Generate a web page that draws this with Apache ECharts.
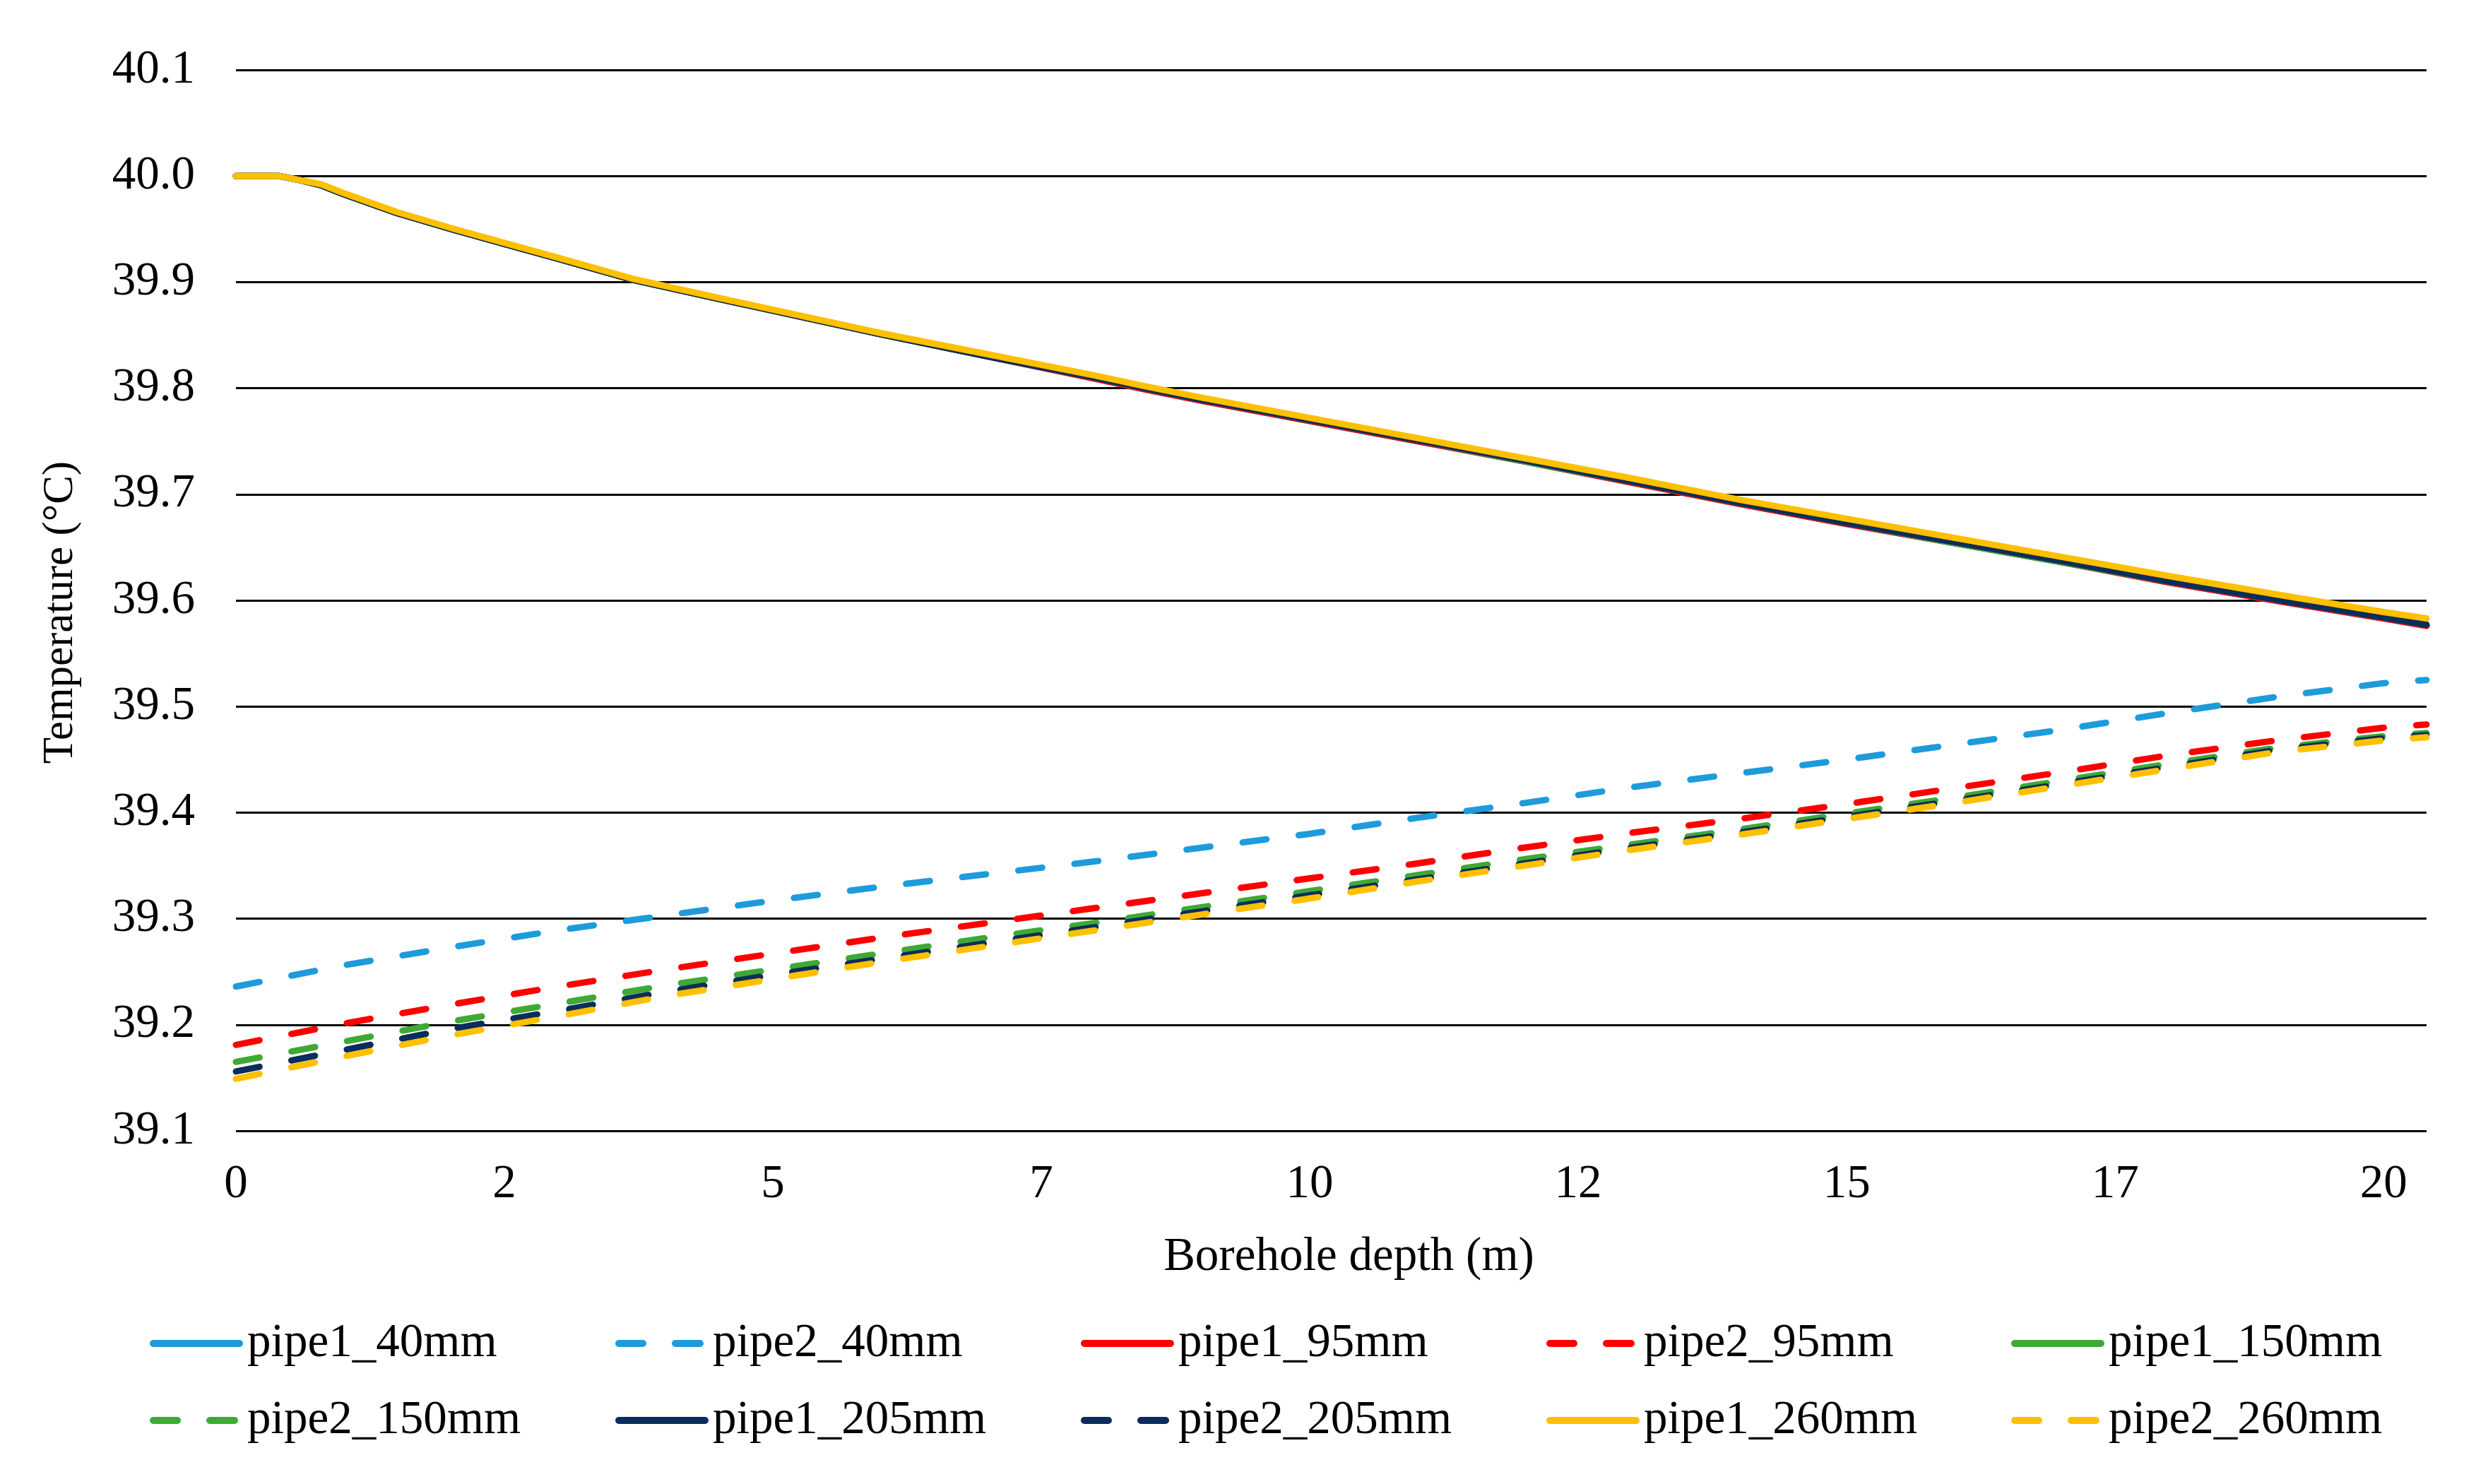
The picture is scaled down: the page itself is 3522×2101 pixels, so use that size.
<!DOCTYPE html>
<html>
<head>
<meta charset="utf-8">
<style>
html,body{margin:0;padding:0;background:#fff;}
#chart{width:3522px;height:2101px;}
</style>
<script src="https://cdn.jsdelivr.net/npm/echarts@6/dist/echarts.min.js"></script>
</head>
<body>
<div id="chart"></div>
<script>
// ---- data ----
const depth1 = [0, 0.2, 0.4, 0.6, 0.8, 1.0, 1.25, 1.5, 2, 2.5, 3, 3.7, 4.5, 5, 6, 7, 8, 8.46, 9, 10, 11, 12, 13, 13.6, 14, 15, 16, 17, 18, 19.1, 20, 20.4];
const pipe1_40mm  = [40.000, 40.000, 40.000, 39.996, 39.991, 39.983, 39.974, 39.965, 39.950, 39.936, 39.922, 39.902, 39.884, 39.873, 39.851, 39.830, 39.809, 39.799, 39.788, 39.769, 39.750, 39.731, 39.711, 39.699, 39.691, 39.672, 39.654, 39.636, 39.617, 39.598, 39.583, 39.576];
const pipe1_95mm  = [40.000, 40.000, 40.000, 39.996, 39.991, 39.983, 39.974, 39.965, 39.950, 39.936, 39.922, 39.902, 39.884, 39.873, 39.851, 39.830, 39.809, 39.799, 39.788, 39.769, 39.750, 39.731, 39.711, 39.699, 39.691, 39.672, 39.654, 39.636, 39.617, 39.598, 39.583, 39.576];
const pipe1_150mm = [40.000, 40.000, 40.000, 39.996, 39.991, 39.983, 39.974, 39.965, 39.950, 39.936, 39.922, 39.902, 39.884, 39.873, 39.851, 39.830, 39.810, 39.800, 39.789, 39.770, 39.751, 39.731, 39.712, 39.700, 39.692, 39.673, 39.654, 39.636, 39.618, 39.599, 39.584, 39.577];
const pipe1_205mm = [40.000, 40.000, 40.000, 39.996, 39.991, 39.983, 39.974, 39.965, 39.950, 39.936, 39.922, 39.902, 39.884, 39.873, 39.851, 39.830, 39.810, 39.800, 39.789, 39.770, 39.751, 39.732, 39.712, 39.700, 39.692, 39.673, 39.655, 39.637, 39.618, 39.599, 39.584, 39.577];
const pipe1_260mm = [40.000, 40.000, 40.000, 39.996, 39.992, 39.984, 39.975, 39.966, 39.951, 39.937, 39.923, 39.903, 39.885, 39.874, 39.852, 39.832, 39.812, 39.802, 39.791, 39.772, 39.753, 39.734, 39.715, 39.703, 39.695, 39.677, 39.659, 39.641, 39.623, 39.604, 39.589, 39.583];

const depth2 = [0, 1, 2, 3, 4, 5, 6, 7, 8, 9, 10, 11, 12, 13, 14, 15, 16, 17, 18, 19, 20, 20.4];
const pipe2_40mm  = [39.236, 39.256, 39.273, 39.289, 39.303, 39.317, 39.330, 39.342, 39.354, 39.367, 39.380, 39.395, 39.409, 39.424, 39.437, 39.450, 39.464, 39.478, 39.494, 39.509, 39.522, 39.525];
const pipe2_95mm  = [39.181, 39.201, 39.219, 39.236, 39.252, 39.267, 39.282, 39.296, 39.310, 39.324, 39.338, 39.352, 39.367, 39.381, 39.394, 39.408, 39.423, 39.438, 39.454, 39.468, 39.480, 39.483];
const pipe2_150mm = [39.165, 39.184, 39.203, 39.220, 39.237, 39.252, 39.267, 39.282, 39.296, 39.311, 39.326, 39.341, 39.356, 39.370, 39.384, 39.399, 39.414, 39.430, 39.446, 39.461, 39.472, 39.475];
const pipe2_205mm = [39.156, 39.176, 39.196, 39.213, 39.231, 39.247, 39.262, 39.277, 39.292, 39.307, 39.322, 39.337, 39.352, 39.367, 39.381, 39.396, 39.411, 39.427, 39.443, 39.459, 39.470, 39.473];
const pipe2_260mm = [39.149, 39.170, 39.190, 39.208, 39.227, 39.243, 39.259, 39.274, 39.289, 39.304, 39.319, 39.335, 39.350, 39.365, 39.379, 39.394, 39.409, 39.425, 39.441, 39.457, 39.468, 39.471];

const seriesNames = ['pipe1_40mm','pipe2_40mm','pipe1_95mm','pipe2_95mm','pipe1_150mm','pipe2_150mm','pipe1_205mm','pipe2_205mm','pipe1_260mm','pipe2_260mm'];
const xTitle = 'Borehole depth (m)';
const yTitle = 'Temperature (°C)';

// ---- build ----
const colors = {
  '40mm': '#1E9BDB',
  '95mm': '#FF0000',
  '150mm': '#3EA935',
  '205mm': '#0B2C5C',
  '260mm': '#FFC000'
};
const values = {
  pipe1_40mm, pipe2_40mm, pipe1_95mm, pipe2_95mm, pipe1_150mm,
  pipe2_150mm, pipe1_205mm, pipe2_205mm, pipe1_260mm, pipe2_260mm
};
const FONT = 'Liberation Serif';
const FS = 67;

function pairs(xs, ys){ return xs.map((x,i)=>[x, ys[i]]); }

const drawOrder = ['pipe1_40mm','pipe1_95mm','pipe1_150mm','pipe1_205mm','pipe1_260mm',
                   'pipe2_40mm','pipe2_95mm','pipe2_150mm','pipe2_205mm','pipe2_260mm'];
const series = drawOrder.map((name, idx) => {
  const dashed = name.startsWith('pipe2');
  const size = name.split('_')[1];
  return {
    name: name,
    type: 'line',
    data: pairs(dashed ? depth2 : depth1, values[name]),
    symbol: 'none',
    showSymbol: false,
    smooth: false,
    z: 2 + idx,
    animation: false,
    color: colors[size],
    lineStyle: {
      color: colors[size],
      width: 9,
      type: dashed ? [34, 46] : 'solid',
      cap: 'round',
      join: 'round'
    },
    emphasis: { disabled: true }
  };
});

const solidIcon = 'path://M5,0 H127 A5,5 0 0 1 127,10 H5 A5,5 0 0 1 5,0 Z';
const dashIcon = 'path://M5,0 H39 A5,5 0 0 1 39,10 H5 A5,5 0 0 1 5,0 Z M85,0 H120 A5,5 0 0 1 120,10 H85 A5,5 0 0 1 85,0 Z';

const legendLefts = [207, 866, 1525, 2184, 2842];
const legendTops = [1863, 1972];
const legends = seriesNames.map((name, i) => {
  const dashed = name.startsWith('pipe2');
  const c = colors[name.split('_')[1]];
  return {
    data: [{ name: name, icon: dashed ? dashIcon : solidIcon, itemStyle: { color: c, borderWidth: 0 } }],
    left: legendLefts[i % 5],
    top: legendTops[Math.floor(i / 5)],
    orient: 'horizontal',
    itemWidth: dashed ? 125 : 132,
    itemHeight: 10,
    itemGap: 0,
    selectedMode: false,
    textStyle: { fontFamily: FONT, fontSize: FS, color: '#000', padding: [0, 0, 0, dashed ? 8 : 1], lineHeight: 68 }
  };
});

const chart = echarts.init(document.getElementById('chart'), null, { renderer: 'canvas', devicePixelRatio: 1 });
chart.setOption({
  backgroundColor: '#fff',
  animation: false,
  grid: { left: 334, right: 87, top: 99, bottom: 500, containLabel: false },
  legend: legends,
  xAxis: {
    type: 'value',
    min: 0,
    max: 20.4,
    interval: 2.5,
    name: xTitle,
    nameLocation: 'middle',
    nameGap: 146,
    nameTextStyle: { fontFamily: FONT, fontSize: FS, color: '#000', padding: [0, 0, 0, 50] },
    axisLine: { show: false },
    axisTick: { show: false },
    splitLine: { show: false },
    axisLabel: {
      fontFamily: FONT, fontSize: FS, color: '#000', margin: 43,
      showMaxLabel: false,
      formatter: v => String(Math.floor(v + 1e-9))
    }
  },
  yAxis: {
    type: 'value',
    min: 39.1,
    max: 40.1,
    interval: 0.1,
    name: yTitle,
    nameLocation: 'middle',
    nameGap: 218,
    nameTextStyle: { fontFamily: FONT, fontSize: 61, color: '#000', padding: [0, 34, 0, 0] },
    axisLine: { show: false },
    axisTick: { show: false },
    splitLine: { show: true, lineStyle: { color: '#000', width: 3 } },
    axisLabel: {
      fontFamily: FONT, fontSize: FS, color: '#000', margin: 58,
      formatter: v => v.toFixed(1)
    }
  },
  series: series
});
</script>
</body>
</html>
